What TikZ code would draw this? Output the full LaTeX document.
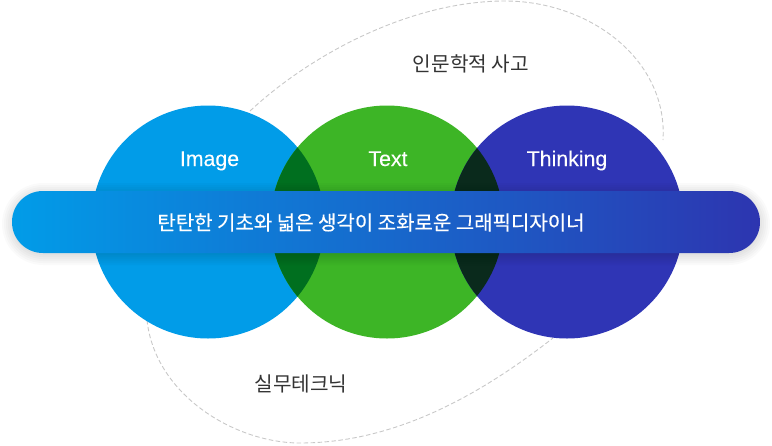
\documentclass[tikz,border=0pt]{standalone}
\usepackage{fontspec}
\setmainfont{Noto Sans CJK KR}
\newfontfamily\latinf[FakeBold=0.15]{Liberation Sans}
\newfontfamily\kmedium[FakeBold=0.35]{Noto Sans CJK KR}
\definecolor{cblue}{HTML}{019CE8}
\definecolor{cgreen}{HTML}{3DB526}
\definecolor{cpurple}{HTML}{2F35B5}
\definecolor{barright}{HTML}{2D35B0}
\definecolor{lensa}{HTML}{006F1F}
\definecolor{lensb}{HTML}{0A2A1C}
\definecolor{dashc}{HTML}{C8C8C8}
\definecolor{ink}{HTML}{333333}
\tikzset{
  venn/.style={circle,minimum size=233pt,inner sep=0pt,outer sep=0pt},
  guide/.style={draw=dashc,line width=0.9pt,dash pattern=on 4.5pt off 2.5pt},
  barbox/.style={rounded corners=30.9pt,minimum width=748pt,minimum height=62pt,inner sep=0pt,outer sep=0pt,left color=cblue,right color=barright,shading angle=90},
  barlabel/.style={text=white,font=\kmedium\fontsize{20}{24}\selectfont},
  vennlabel/.style={text=white,anchor=base,font=\latinf\fontsize{21.3}{24}\selectfont},
  outerlabel/.style={text=ink,anchor=base,font=\fontsize{20.2}{24}\selectfont},
}
\begin{document}
\begin{tikzpicture}[x=1pt,y=-1pt]
\useasboundingbox (0,0) rectangle (772,445);
% dashed guides
\coordinate (ua) at (250,111);
\coordinate (ub) at (663,140);
\coordinate (la) at (147,320);
\coordinate (lb) at (553,338);
\draw[guide] (ua) .. controls (310,55) and (410,1) .. (505,1)
   .. controls (590,1) and (668,60) .. (ub);
\draw[guide] (la) .. controls (155,395) and (235,443) .. (300,443)
   .. controls (395,443) and (480,395) .. (lb);
% circles
\node[venn,fill=cblue] (image) at (208,222) {};
\node[venn,fill=cgreen] (text) at (387,222) {};
\node[venn,fill=cpurple] (thinking) at (567,222) {};
\begin{scope}
  \clip (208,222) circle (116.5pt);
  \fill[lensa] (387,222) circle (116.5pt);
\end{scope}
\begin{scope}
  \clip (387,222) circle (116.5pt);
  \fill[lensb] (567,222) circle (116.5pt);
\end{scope}
\node[vennlabel] (l1) at (209.5,166) {Image};
\node[vennlabel] (l2) at (388,166) {Text};
\node[vennlabel] (l3) at (567,166) {Thinking};
% bar shadow
\foreach \e in {10,8,6,4,2,0}{
  \pgfmathsetmacro{\rr}{31+\e}
  \fill[black,opacity=0.018,rounded corners=\rr pt] (12-\e,191-\e+2) rectangle (760+\e,253+\e+2);
}
\node[barbox] (bar) at (386,222) {};
\node[barlabel] (barl) at (371,222.5) {탄탄한 기초와 넓은 생각이 조화로운 그래픽디자이너};
\node[outerlabel] (o1) at (471,71) {인문학적 사고};
\node[outerlabel] (o2) at (301,391) {실무테크닉};
\end{tikzpicture}
\end{document}
